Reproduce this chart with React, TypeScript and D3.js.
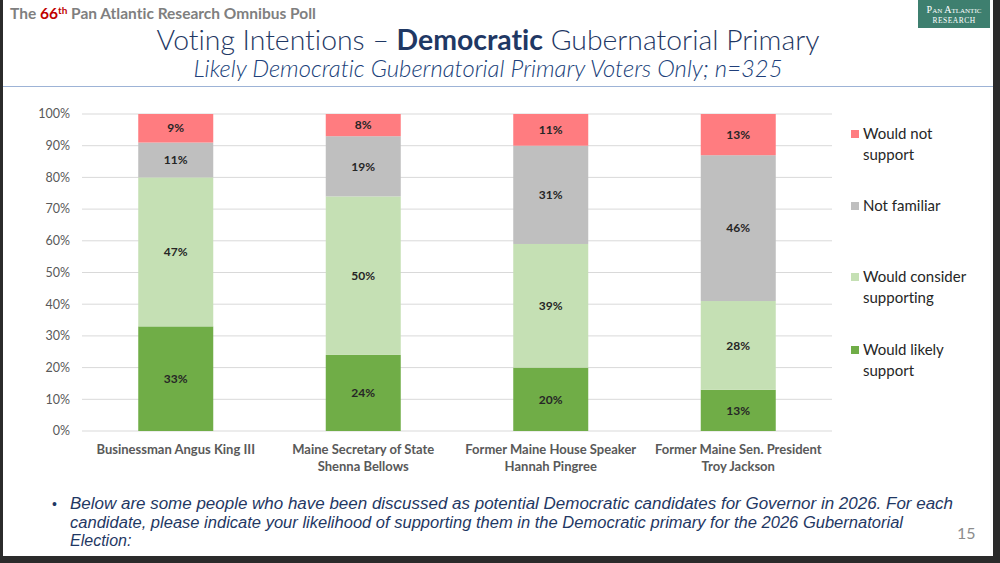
import React from 'react';
import * as d3 from 'd3';

const candidates = [
  ['Businessman Angus King III'],
  ['Maine Secretary of State', 'Shenna Bellows'],
  ['Former Maine House Speaker', 'Hannah Pingree'],
  ['Former Maine Sen. President', 'Troy Jackson'],
];

// stacked bottom to top
const seriesNames = ['Would likely support', 'Would consider supporting', 'Not familiar', 'Would not support'];
const legendLines = [['Would likely', 'support'], ['Would consider', 'supporting'], ['Not familiar'], ['Would not', 'support']];
const seriesColors = ['#70ad47', '#c5e0b4', '#bfbfbf', '#ff7c80'];

const wouldLikely = [33, 24, 20, 13];
const wouldConsider = [47, 50, 39, 28];
const notFamiliar = [11, 19, 31, 46];
const wouldNot = [9, 8, 11, 13];

const yTicks = [0, 10, 20, 30, 40, 50, 60, 70, 80, 90, 100];

const bulletLines = [
  'Below are some people who have been discussed as potential Democratic candidates for Governor in 2026. For each',
  'candidate, please indicate your likelihood of supporting them in the Democratic primary for the 2026 Gubernatorial',
  'Election:',
];
const bulletWidths = [883, 833, 0];

const W = 1000;
const H = 563;
const plot = { left: 82, right: 832, top: 114, bottom: 431 };
const body = 'Lato, "Open Sans", sans-serif';
const noLig = { fontVariantLigatures: 'none' } as React.CSSProperties;

export default function App() {
  const x = d3.scaleBand<number>()
    .domain(d3.range(candidates.length))
    .range([plot.left, plot.right])
    .paddingInner(0.6)
    .paddingOuter(0.3);
  const y = d3.scaleLinear().domain([0, 100]).range([plot.bottom, plot.top]);

  const rows = candidates.map((_, i) => ({
    i,
    'Would likely support': wouldLikely[i],
    'Would consider supporting': wouldConsider[i],
    'Not familiar': notFamiliar[i],
    'Would not support': wouldNot[i],
  }));
  const stacked = d3.stack<any>().keys(seriesNames)(rows);

  const legendY = [355, 282, 211, 139];

  return (
    <div style={{ position: 'absolute', left: 0, top: 0 }}>
      <svg width={W} height={H} style={{ display: 'block', ...noLig }}>
        <defs>
          <clipPath id="plotclip">
            <rect x={plot.left} y={plot.top} width={plot.right - plot.left} height={plot.bottom - plot.top} />
          </clipPath>
        </defs>
        <rect x={0} y={0} width={W} height={H} fill="#2b2b2b" />
        <rect x={3} y={0} width={990} height={556} fill="#ffffff" />

        {/* header */}
        <text x={10} y={19} fontFamily={body} fontWeight={700} fontSize={15.5} fill="#7f7f7f">
          The <tspan fill="#c00000">66</tspan><tspan fill="#c00000" fontSize={10} dy={-5}>th</tspan>
          <tspan dy={5}> Pan Atlantic Research Omnibus Poll</tspan>
        </text>

        {/* logo */}
        <rect x={918} y={0} width={72} height={28} fill="#3e7f6f" />
        <text x={954} y={13} textAnchor="middle" fill="#ffffff" fontFamily='"Liberation Serif", serif' fontSize={10} style={{ fontVariant: 'small-caps' }}>Pan Atlantic</text>
        <text x={954} y={23} textAnchor="middle" fill="#ffffff" fontFamily='"Liberation Serif", serif' fontSize={7.5} letterSpacing={0.5}>RESEARCH</text>

        {/* titles */}
        <text x={488} y={50} textAnchor="middle" fontFamily={body} fontWeight={300} fontSize={28.4} fill="#1f3864">
          Voting Intentions – <tspan fontWeight={700}>Democratic</tspan> Gubernatorial Primary
        </text>
        <text x={488} y={77} textAnchor="middle" fontFamily={body} fontStyle="italic" fontWeight={300} fontSize={23}
          fill="#203f7a" textLength={589} lengthAdjust="spacingAndGlyphs">
          Likely Democratic Gubernatorial Primary Voters Only; n=325
        </text>
        <line x1={3} x2={993} y1={86.5} y2={86.5} stroke="#9db3d6" strokeWidth={1.2} />

        {/* grid and y axis */}
        {yTicks.map(t => (
          <g key={t}>
            <line x1={plot.left} x2={plot.right} y1={y(t)} y2={y(t)} stroke="#d9d9d9" strokeWidth={1} />
            <text x={70} y={y(t)} dy="0.35em" textAnchor="end" fontFamily={body} fontSize={12.5} fill="#595959">{t}%</text>
          </g>
        ))}

        {/* bars */}
        <g clipPath="url(#plotclip)">
          {stacked.map((s, si) => s.map((d, i) => (
            <rect key={`${si}-${i}`} x={x(i)} width={x.bandwidth()} y={y(d[1])} height={y(d[0]) - y(d[1])} fill={seriesColors[si]} />
          )))}
        </g>
        {stacked.map((s, si) => s.map((d, i) => {
          const top = Math.min(d[1], 100);
          return (
            <text key={`l${si}-${i}`} x={(x(i) as number) + x.bandwidth() / 2} y={y((d[0] + top) / 2)} dy="0.35em" textAnchor="middle"
              fontFamily={body} fontWeight={700} fontSize={12} fill="#262626">
              {d[1] - d[0]}%
            </text>
          );
        }))}

        {/* x labels */}
        {candidates.map((lines, i) => (
          <text key={i} x={(x(i) as number) + x.bandwidth() / 2} y={454} textAnchor="middle" fontFamily={body} fontWeight={700} fontSize={13} fill="#595959">
            {lines.map((l, j) => <tspan key={j} x={(x(i) as number) + x.bandwidth() / 2} dy={j === 0 ? 0 : 16.5}>{l}</tspan>)}
          </text>
        ))}

        {/* legend */}
        {seriesNames.map((n, si) => (
          <g key={n}>
            <rect x={851} y={legendY[si] - 9} width={8} height={8} fill={seriesColors[si]} />
            <text x={863} y={legendY[si]} fontFamily={body} fontSize={15} fill="#262626">
              {legendLines[si].map((l, j) => <tspan key={j} x={863} dy={j === 0 ? 0 : 20.5}>{l}</tspan>)}
            </text>
          </g>
        ))}

        {/* footnote */}
        <text x={52} y={509} fontFamily='"Liberation Sans", Arial, sans-serif' fontSize={14} fill="#1f3864">•</text>
        {bulletLines.map((l, j) => (
          <text key={j} x={70} y={509 + j * 18.5} fontFamily='"Liberation Sans", Arial, sans-serif' fontStyle="italic" fontSize={16} fill="#1f3864"
            {...(bulletWidths[j] ? { textLength: bulletWidths[j], lengthAdjust: 'spacingAndGlyphs' } : {})}>{l}</text>
        ))}
        <text x={957} y={539} fontFamily={body} fontSize={16} fill="#8c8c8c">15</text>
      </svg>
    </div>
  );
}
